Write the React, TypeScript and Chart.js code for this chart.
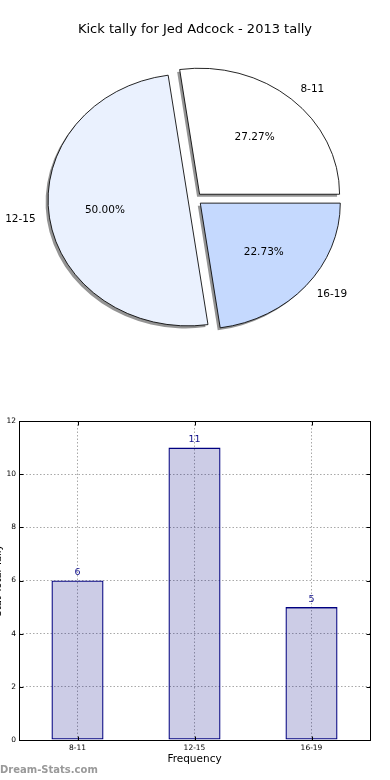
import React, { useEffect, useRef } from 'react';
import { Chart, registerables } from 'chart.js';

Chart.register(...registerables);

// ---- data ----
const categories = ['8-11', '12-15', '16-19'];
const tallies = [6, 11, 5];
const pieColors = ['#ffffff', '#eaf1fe', '#c5d9fe'];
const yTickStep = 2;
const yMax = 12;
const pieTitle = 'Kick tally for Jed Adcock - 2013 tally';
const xTitle = 'Frequency';
const yTitle = 'Stat Total Tally';
const watermark = 'Dream-Stats.com';

const FONT = "'DejaVu Sans', 'Bitstream Vera Sans', sans-serif";
const SY = 0.9; // vertical squash of the pie (ellipse like the reference)
const EXPLODE = 7;

// pie is drawn clockwise by Chart.js, the reference runs counter-clockwise
const pieOrder = [2, 1, 0];

const piePlugin = {
  id: 'explodedPie',
  beforeDatasetsDraw(chart: any) {
    const ctx = chart.ctx;
    const meta = chart.getDatasetMeta(0);
    const place = (arc: any) => {
      const mid = (arc.startAngle + arc.endAngle) / 2;
      ctx.translate(arc.x, arc.y);
      ctx.scale(1, SY);
      ctx.translate(-arc.x, -arc.y);
      ctx.translate(Math.cos(mid) * EXPLODE, Math.sin(mid) * EXPLODE);
    };
    // shadows first
    meta.data.forEach((arc: any) => {
      ctx.save();
      ctx.translate(-2.5, 2.5);
      place(arc);
      ctx.filter = 'blur(0.6px)';
      ctx.fillStyle = 'rgba(0,0,0,0.42)';
      ctx.beginPath();
      ctx.moveTo(arc.x, arc.y);
      ctx.arc(arc.x, arc.y, arc.outerRadius, arc.startAngle, arc.endAngle);
      ctx.closePath();
      ctx.fill();
      ctx.restore();
    });
    meta.data.forEach((arc: any) => {
      ctx.save();
      place(arc);
      arc.draw(ctx);
      ctx.restore();
    });
    return false;
  },
  afterDraw(chart: any) {
    const ctx = chart.ctx;
    const meta = chart.getDatasetMeta(0);
    const total = tallies.reduce((a, b) => a + b, 0);
    ctx.save();
    ctx.fillStyle = '#000';
    ctx.font = `10.5px ${FONT}`;
    ctx.textBaseline = 'middle';
    meta.data.forEach((arc: any, j: number) => {
      const idx = pieOrder[j];
      const mid = (arc.startAngle + arc.endAngle) / 2;
      const c = Math.cos(mid);
      const s = Math.sin(mid);
      const ex = arc.x + c * EXPLODE;
      const ey = arc.y + s * EXPLODE * SY;
      const r = arc.outerRadius;
      ctx.textAlign = c > 0 ? 'left' : 'right';
      ctx.fillText(categories[idx], ex + c * r * 1.1, ey + s * r * 1.1 * SY);
      ctx.textAlign = 'center';
      ctx.fillText(((tallies[idx] / total) * 100).toFixed(2) + '%', ex + c * r * 0.6, ey + s * r * 0.6 * SY);
    });
    ctx.restore();
  },
};

const barPlugin = {
  id: 'barExtras',
  afterDatasetsDraw(chart: any) {
    const ctx = chart.ctx;
    const meta = chart.getDatasetMeta(0);
    ctx.save();
    ctx.fillStyle = '#10108a';
    ctx.font = `9.5px ${FONT}`;
    ctx.textAlign = 'center';
    ctx.textBaseline = 'middle';
    meta.data.forEach((bar: any, i: number) => {
      ctx.fillText(String(tallies[i]), bar.x, bar.y - 8);
    });
    ctx.restore();
  },
  afterDraw(chart: any) {
    const ctx = chart.ctx;
    const { left, right, top, bottom } = chart.chartArea;
    const L = Math.round(left) + 0.5;
    const R = Math.round(right) + 0.5;
    const T = Math.round(top) + 0.5;
    const B = Math.round(bottom) + 0.5;
    ctx.save();
    ctx.strokeStyle = '#000';
    ctx.lineWidth = 1;
    ctx.strokeRect(L, T, R - L, B - T);
    // inward tick marks
    const ys = chart.scales.y;
    ys.ticks.forEach((t: any) => {
      const y = Math.round(ys.getPixelForValue(t.value)) + 0.5;
      ctx.beginPath();
      ctx.moveTo(L, y); ctx.lineTo(L + 4, y);
      ctx.moveTo(R, y); ctx.lineTo(R - 4, y);
      ctx.stroke();
    });
    const xs = chart.scales.x;
    categories.forEach((_, i) => {
      const x = Math.round(xs.getPixelForValue(i)) + 0.5;
      ctx.beginPath();
      ctx.moveTo(x, B); ctx.lineTo(x, B - 4);
      ctx.moveTo(x, T); ctx.lineTo(x, T + 4);
      ctx.stroke();
    });
    // watermark
    ctx.fillStyle = '#999999';
    ctx.font = `bold 10px ${FONT}`;
    ctx.textAlign = 'left';
    ctx.textBaseline = 'middle';
    ctx.fillText(watermark, 8, 370);
    ctx.restore();
  },
};

export default function App() {
  const pieRef = useRef<HTMLCanvasElement>(null);
  const barRef = useRef<HTMLCanvasElement>(null);

  useEffect(() => {
    const pie = new Chart(pieRef.current as HTMLCanvasElement, {
      type: 'pie',
      data: {
        labels: pieOrder.map((i) => categories[i]),
        datasets: [
          {
            data: pieOrder.map((i) => tallies[i]),
            backgroundColor: pieOrder.map((i) => pieColors[i]),
            borderColor: '#000',
            borderWidth: 0.9,
            radius: 140,
          } as any,
        ],
      },
      options: {
        responsive: false,
        animation: false,
        devicePixelRatio: 1,
        rotation: 90,
        events: [],
        layout: { padding: { left: 4, right: 4, top: 0, bottom: 42 } },
        plugins: {
          legend: { display: false },
          tooltip: { enabled: false },
          title: {
            display: true,
            text: pieTitle,
            color: '#000',
            font: { family: FONT, size: 13, weight: 'normal' },
            padding: { top: 22, bottom: 22.4 },
          },
        },
      } as any,
      plugins: [piePlugin],
    });

    const gridColor = '#a8a8a8';
    const bar = new Chart(barRef.current as HTMLCanvasElement, {
      type: 'bar',
      data: {
        labels: categories,
        datasets: [
          {
            data: tallies,
            backgroundColor: 'rgba(0,0,128,0.2)',
            borderColor: '#000080',
            borderWidth: 1.3,
            borderSkipped: false,
            barPercentage: 0.445,
            categoryPercentage: 1,
          } as any,
        ],
      },
      options: {
        responsive: false,
        animation: false,
        devicePixelRatio: 1,
        events: [],
        layout: { padding: { left: 0, right: 20, top: 21, bottom: 10 } },
        plugins: { legend: { display: false }, tooltip: { enabled: false } },
        scales: {
          x: {
            offset: true,
            grid: { offset: false, color: gridColor, lineWidth: 1, drawTicks: false },
            border: { display: false, dash: [1.5, 2] },
            ticks: { color: '#000', font: { family: FONT, size: 7.5 }, padding: 4, maxRotation: 0 },
            title: {
              display: true,
              text: xTitle,
              color: '#000',
              font: { family: FONT, size: 10.5 },
              padding: { top: 0, bottom: 4 },
            },
            afterFit: (s: any) => { s.height = 30; },
          },
          y: {
            min: 0,
            max: yMax,
            grid: { color: gridColor, lineWidth: 1, drawTicks: false },
            border: { display: false, dash: [1.5, 2] },
            ticks: { stepSize: yTickStep, color: '#000', font: { family: FONT, size: 7.5 }, padding: 3 },
            title: {
              display: true,
              text: yTitle,
              color: '#000',
              font: { family: FONT, size: 10 },
              padding: 0,
            },
            afterFit: (s: any) => { s.width = 27; },
          },
        },
      } as any,
      plugins: [barPlugin],
    });

    return () => {
      pie.destroy();
      bar.destroy();
    };
  }, []);

  return (
    <div style={{ position: 'absolute', left: 0, top: 0, width: 390, height: 780, overflow: 'hidden', background: '#fff' }}>
      <canvas ref={pieRef} width={390} height={380} style={{ position: 'absolute', left: 0, top: 0, width: 390, height: 380 }} />
      <canvas ref={barRef} width={398} height={380} style={{ position: 'absolute', left: -8, top: 400, width: 398, height: 380 }} />
    </div>
  );
}
